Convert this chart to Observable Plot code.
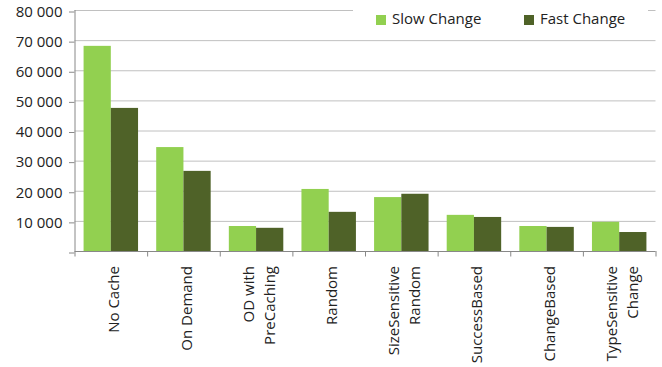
<!DOCTYPE html>
<html>
<head>
<meta charset="utf-8">
<script src="https://cdn.jsdelivr.net/npm/d3@7"></script>
<script src="https://cdn.jsdelivr.net/npm/@observablehq/plot@0.6"></script>
<style>
  html, body { margin: 0; padding: 0; background: #fff; }
  #wrap { position: relative; width: 662px; height: 367px; font-family: "Open Sans", sans-serif; }
  #legend { position: absolute; left: 353px; top: 0; width: 295px; height: 33px; background: #fff; }
  .item { position: absolute; top: 8px; font-size: 15px; line-height: 20px; color: #222; white-space: nowrap; }
  .sw { display: inline-block; width: 10px; height: 10px; margin-right: 6px; vertical-align: -0.5px; }
</style>
</head>
<body>
<div id="wrap"></div>
<script>
const categories = ["No Cache", "On Demand", "OD with\nPreCaching", "Random", "SizeSensitive\nRandom", "SuccessBased", "ChangeBased", "TypeSensitive\nChange"];
const seriesNames = ["Slow Change", "Fast Change"];
const slowChange = [68100, 34500, 8300, 20600, 17900, 12000, 8300, 9700];
const fastChange = [47500, 26600, 7700, 13000, 19000, 11300, 8000, 6300];
const yTicks = [0, 10000, 20000, 30000, 40000, 50000, 60000, 70000, 80000];
const colors = ["#92d050", "#4f6228"];

const data = [];
categories.forEach((c, i) => {
  data.push({i, s: 0, series: seriesNames[0], value: slowChange[i]});
  data.push({i, s: 1, series: seriesNames[1], value: fastChange[i]});
});

const fmt = d3.formatLocale({thousands: " ", grouping: [3], decimal: "."}).format(",d");
const gap = 0.125, bw = 0.375;

const plot = Plot.plot({
  width: 662,
  height: 367,
  marginLeft: 74.5,
  marginRight: 6.5,
  marginTop: 10,
  marginBottom: 116,
  style: {fontFamily: "Open Sans, sans-serif", fontSize: "15px", color: "#222", background: "#fff"},
  x: {type: "linear", domain: [0, categories.length], axis: null},
  y: {domain: [0, 80000], axis: null},
  color: {domain: seriesNames, range: colors},
  marks: [
    Plot.gridY(yTicks.filter(d => d > 0), {stroke: "#c0c0c0", strokeOpacity: 1}),
    Plot.rectY(data, {
      x1: d => d.i + gap + d.s * bw,
      x2: d => d.i + gap + (d.s + 1) * bw,
      y: "value",
      fill: "series"
    }),
    Plot.ruleY([0], {stroke: "#888", strokeOpacity: 1}),
    Plot.ruleX([0], {stroke: "#888", strokeOpacity: 1}),
    Plot.axisY({
      ticks: yTicks, tickSize: 5.5, tickPadding: 7, label: null,
      tickFormat: d => d === 0 ? "" : fmt(d),
      stroke: "#888", strokeOpacity: 1, fill: "#222", fontSize: 15, dy: 1.5
    }),
    Plot.axisX({
      ticks: d3.range(categories.length + 1), tickSize: 5.5, label: null,
      tickFormat: () => "", stroke: "#888", strokeOpacity: 1
    }),
    Plot.text(categories, {
      x: (d, i) => i + 0.5,
      frameAnchor: "bottom",
      dy: 14.5, dx: 1,
      rotate: -90,
      textAnchor: "end",
      lineAnchor: "middle",
      lineHeight: 1.4,
      fontSize: 15,
      fill: "#222"
    })
  ]
});

const wrap = document.getElementById("wrap");
wrap.appendChild(plot);
const legend = document.createElement("div");
legend.id = "legend";
const lefts = [23, 171];
seriesNames.forEach((name, k) => {
  const item = document.createElement("div");
  item.className = "item";
  item.style.left = lefts[k] + "px";
  const sw = document.createElement("span");
  sw.className = "sw";
  sw.style.background = colors[k];
  item.appendChild(sw);
  item.appendChild(document.createTextNode(name));
  legend.appendChild(item);
});
wrap.appendChild(legend);
</script>
</body>
</html>
